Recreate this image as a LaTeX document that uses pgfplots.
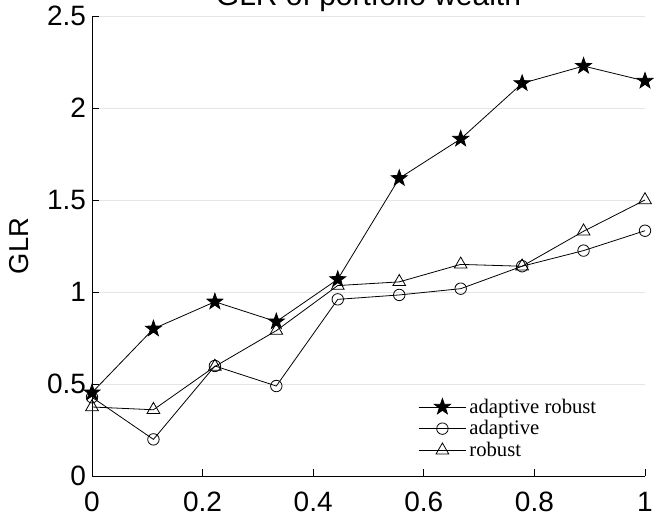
\documentclass[border=0pt]{standalone}
\usepackage{pgfplots}
\pgfplotsset{compat=1.18}
\usepackage{fontspec}
\setmainfont{Liberation Sans}
\newfontfamily\legfont{Liberation Serif}
\pgfdeclareplotmark{fstar}{%
  \pgfpathmoveto{\pgfpointpolar{90}{\pgfplotmarksize}}%
  \pgfpathlineto{\pgfpointpolar{126}{0.40\pgfplotmarksize}}%
  \pgfpathlineto{\pgfpointpolar{162}{\pgfplotmarksize}}%
  \pgfpathlineto{\pgfpointpolar{198}{0.40\pgfplotmarksize}}%
  \pgfpathlineto{\pgfpointpolar{234}{\pgfplotmarksize}}%
  \pgfpathlineto{\pgfpointpolar{270}{0.40\pgfplotmarksize}}%
  \pgfpathlineto{\pgfpointpolar{306}{\pgfplotmarksize}}%
  \pgfpathlineto{\pgfpointpolar{342}{0.40\pgfplotmarksize}}%
  \pgfpathlineto{\pgfpointpolar{18}{\pgfplotmarksize}}%
  \pgfpathlineto{\pgfpointpolar{54}{0.40\pgfplotmarksize}}%
  \pgfpathclose
  \pgfusepathqfillstroke
}
\begin{document}
\begin{tikzpicture}
\begin{axis}[
  scale only axis,
  width=414.75pt, height=345pt,
  xmin=0, xmax=1, ymin=0, ymax=2.5,
  xtick={0,0.2,0.4,0.6,0.8,1},
  ytick={0,0.5,1,1.5,2,2.5},
  axis x line=bottom, axis y line=left,
  axis line style={-, black, line width=0.6pt},
  tick align=inside,
  major tick length=5pt,
  tick style={black, line width=0.5pt},
  ymajorgrids,
  grid style={gray!20, line width=0.7pt},
  /pgf/number format/assume math mode=true,
  ticklabel style={font=\fontsize{21}{24}\selectfont},
  xticklabel style={yshift=-8.5pt},
  yticklabel style={xshift=-1pt},
  ylabel={GLR},
  ylabel style={font=\fontsize{20.5}{24}\selectfont, yshift=7pt},
  title={GLR of portfolio wealth},
  title style={font=\fontsize{22.5}{26}\selectfont, anchor=base, yshift=1.5pt},
  clip=false,
  legend style={draw=none, fill=none, at={(rel axis cs:0.582,0.18)}, anchor=north west,
    font=\legfont\fontsize{15.5}{17}\selectfont, row sep=0pt,
    legend cell align=left},
  legend image code/.code={%
    \draw[mark repeat=2,mark phase=2] plot coordinates {(0cm,0cm) (0.63cm,0cm) (1.26cm,0cm)};},
]
\addplot[black, line width=0.6pt, mark=fstar, mark size=6.3pt, mark options={fill=black, solid}] coordinates {
(0,0.453) (0.1111,0.800) (0.2222,0.947) (0.3333,0.839) (0.4444,1.069)
(0.5556,1.618) (0.6667,1.832) (0.7778,2.134) (0.8889,2.228) (1,2.147)};
\addlegendentry{adaptive robust}
\addplot[black, line width=0.6pt, mark=o, mark size=4.3pt] coordinates {
(0,0.428) (0.1111,0.199) (0.2222,0.598) (0.3333,0.489) (0.4444,0.960)
(0.5556,0.984) (0.6667,1.018) (0.7778,1.140) (0.8889,1.225) (1,1.333)};
\addlegendentry{adaptive}
\addplot[black, line width=0.6pt, mark=triangle, mark size=5.5pt] coordinates {
(0,0.375) (0.1111,0.360) (0.2222,0.595) (0.3333,0.790) (0.4444,1.035)
(0.5556,1.055) (0.6667,1.150) (0.7778,1.140) (0.8889,1.330) (1,1.500)};
\addlegendentry{robust}
\end{axis}
\pgfresetboundingbox
\useasboundingbox ([xshift=-69pt,yshift=-30.75pt]current axis.south west) rectangle ([xshift=6.75pt,yshift=12pt]current axis.north east);
\end{tikzpicture}
\end{document}
